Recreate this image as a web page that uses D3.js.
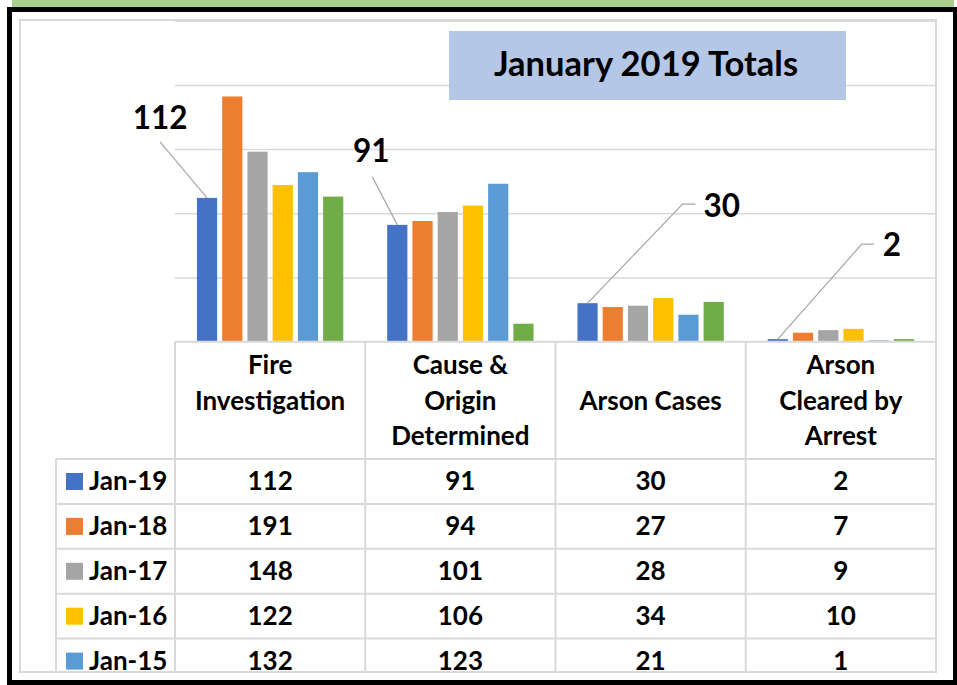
<!DOCTYPE html>
<html>
<head>
<meta charset="utf-8">
<script src="https://cdn.jsdelivr.net/npm/d3@7"></script>
<style>
  body { margin: 0; background: #fff; }
  text { font-family: Lato, "Open Sans", sans-serif; font-weight: 700; fill: #000; }
</style>
</head>
<body>
<div id="chart"></div>
<script>
"use strict";

// == data ==
var categories = ["Fire Investigation", "Cause & Origin Determined", "Arson Cases", "Arson Cleared by Arrest"];
var headerLines = [["Fire", "Investigation"], ["Cause &", "Origin", "Determined"], ["Arson Cases"], ["Arson", "Cleared by", "Arrest"]];
var series = ["Jan-19", "Jan-18", "Jan-17", "Jan-16", "Jan-15", "Jan-14"];
var jan19 = [112, 91, 30, 2];
var jan18 = [191, 94, 27, 7];
var jan17 = [148, 101, 28, 9];
var jan16 = [122, 106, 34, 10];
var jan15 = [132, 123, 21, 1];
var jan14 = [113, 14, 31, 2];
var values = [jan19, jan18, jan17, jan16, jan15, jan14];
var colors = ["#4472c4", "#ed7d31", "#a5a5a5", "#ffc000", "#5b9bd5", "#70ad47"];
var yTicks = [50, 100, 150, 200, 250];
var title = "January 2019 Totals";

var width = 957, height = 685;

var svg = d3.select("#chart")
  .append("svg")
  .attr("width", width)
  .attr("height", height);

// frame
svg.append("rect")
  .attr("x", 12).attr("y", 0).attr("width", 942).attr("height", 7)
  .attr("fill", "#a9d08e");
svg.append("rect")
  .attr("x", 9.5).attr("y", 9.5).attr("width", 946).attr("height", 673)
  .attr("fill", "none").attr("stroke", "#000").attr("stroke-width", 5);
svg.append("rect")
  .attr("x", 20).attr("y", 20).attr("width", 916).attr("height", 652)
  .attr("fill", "none").attr("stroke", "#d9d9d9").attr("stroke-width", 2);

// scales
var plotLeft = 175, plotRight = 936, plotTop = 20.7, plotBottom = 341.7;

var x0 = d3.scaleBand()
  .domain(categories)
  .range([plotLeft, plotRight]);

var x1 = d3.scaleBand()
  .domain(series)
  .range([0, x0.bandwidth()])
  .paddingInner(0.2)
  .paddingOuter(0.87);

var y = d3.scaleLinear()
  .domain([0, 250])
  .range([plotBottom, plotTop]);

// gridlines
var grid = svg.append("g")
  .attr("transform", "translate(" + plotLeft + ",0)")
  .call(d3.axisLeft(y).tickValues(yTicks).tickSize(-(plotRight - plotLeft)).tickFormat(""));
grid.select(".domain").remove();
grid.selectAll(".tick line").attr("stroke", "#d9d9d9").attr("stroke-width", 1.5);

// title
svg.append("rect")
  .attr("x", 449).attr("y", 31).attr("width", 397).attr("height", 69)
  .attr("fill", "#b4c7e7");
svg.append("text")
  .attr("x", 646).attr("y", 76)
  .attr("text-anchor", "middle")
  .style("font-size", "34.5px")
  .text(title);

// bars
var groups = svg.selectAll(".series")
  .data(series)
  .enter().append("g")
  .attr("class", "series")
  .attr("fill", function(d, i) { return colors[i]; });

groups.selectAll("rect")
  .data(function(s, i) {
    return categories.map(function(c, j) { return { cat: c, s: s, v: values[i][j] }; });
  })
  .enter().append("rect")
  .attr("x", function(d) { return x0(d.cat) + x1(d.s); })
  .attr("y", function(d) { return y(d.v); })
  .attr("width", x1.bandwidth())
  .attr("height", function(d) { return y(0) - y(d.v); });

// data labels for Jan-19 with leader lines
var labelOffsets = [
  { dx: -47, dy: -56, elbow: 0, anchor: "middle", tx: 0, ty: -13 },
  { dx: -25, dy: -48, elbow: 0, anchor: "middle", tx: -1, ty: -15 },
  { dx: 95, dy: -99, elbow: 13, anchor: "start", tx: 21, ty: 13 },
  { dx: 84, dy: -95, elbow: 12, anchor: "start", tx: 21, ty: 12 }
];

categories.forEach(function(c, j) {
  var bx = x0(c) + x1(series[0]) + x1.bandwidth() / 2,
      by = y(jan19[j]),
      o = labelOffsets[j],
      ex = bx + o.dx, ey = by + o.dy;
  var pts = [[bx, by], [ex, ey]];
  if (o.elbow) pts.push([ex + o.elbow, ey]);
  svg.append("path")
    .attr("d", d3.line()(pts))
    .attr("fill", "none")
    .attr("stroke", "#a6a6a6")
    .attr("stroke-width", 1.2);
  svg.append("text")
    .attr("x", ex + o.tx).attr("y", ey + o.ty)
    .attr("text-anchor", o.anchor)
    .style("font-size", "31.5px")
    .text(jan19[j]);
});

// data table
var table = svg.append("g").attr("clip-path", "url(#clip)");
var visibleBottom = 672;
svg.append("clipPath").attr("id", "clip")
  .append("rect").attr("x", 0).attr("y", 0).attr("width", width).attr("height", visibleBottom);

var headerTop = plotBottom, rowTop = 459, rowH = 44.9, keyLeft = 56;
var tableBottom = rowTop + rowH * series.length;
var lineColor = "#d9d9d9";

// header text
categories.forEach(function(c, j) {
  var lines = headerLines[j], off = (3 - lines.length) >> 1;
  lines.forEach(function(l, k) {
    table.append("text")
      .attr("x", x0(c) + x0.bandwidth() / 2)
      .attr("y", 374 + (off + k) * 35.5)
      .attr("text-anchor", "middle")
      .style("font-size", "26px")
      .text(l);
  });
});

// horizontal lines
table.append("line")
  .attr("x1", plotLeft).attr("x2", plotRight)
  .attr("y1", headerTop).attr("y2", headerTop)
  .attr("stroke", lineColor).attr("stroke-width", 2);
d3.range(series.length + 1).forEach(function(i) {
  table.append("line")
    .attr("x1", keyLeft).attr("x2", plotRight)
    .attr("y1", rowTop + i * rowH).attr("y2", rowTop + i * rowH)
    .attr("stroke", lineColor).attr("stroke-width", 2);
});

// vertical lines
table.append("line")
  .attr("x1", keyLeft).attr("x2", keyLeft)
  .attr("y1", rowTop).attr("y2", tableBottom)
  .attr("stroke", lineColor).attr("stroke-width", 2);
x0.domain().concat([null]).forEach(function(c) {
  var xx = c === null ? plotRight : x0(c);
  table.append("line")
    .attr("x1", xx).attr("x2", xx)
    .attr("y1", headerTop).attr("y2", tableBottom)
    .attr("stroke", lineColor).attr("stroke-width", 2);
});

// rows (only those that start inside the visible frame)
series.forEach(function(s, i) {
  var top = rowTop + i * rowH;
  if (top >= visibleBottom) return;
  table.append("rect")
    .attr("x", 66).attr("y", top + 14)
    .attr("width", 17).attr("height", 17)
    .attr("fill", colors[i]);
  table.append("text")
    .attr("x", 89).attr("y", top + 31)
    .style("font-size", "26px")
    .text(s);
  categories.forEach(function(c, j) {
    table.append("text")
      .attr("x", x0(c) + x0.bandwidth() / 2)
      .attr("y", top + 31)
      .attr("text-anchor", "middle")
      .style("font-size", "26px")
      .text(values[i][j]);
  });
});
</script>
</body>
</html>
